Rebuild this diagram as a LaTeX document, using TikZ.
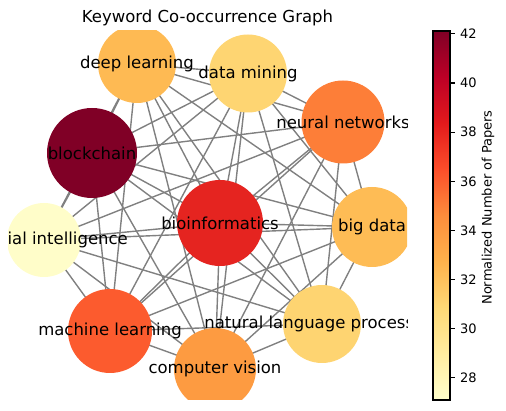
\documentclass[tikz,border=0pt]{standalone}
\usepackage{fontspec}
\setmainfont{DejaVu Sans}
\usepackage{tikz}
\usetikzlibrary{backgrounds}

\definecolor{cyl0}{HTML}{FFFFCC}
\definecolor{cyl1}{HTML}{FFEDA0}
\definecolor{cyl2}{HTML}{FED976}
\definecolor{cyl3}{HTML}{FEB24C}
\definecolor{cyl4}{HTML}{FD8D3C}
\definecolor{cyl5}{HTML}{FC4E2A}
\definecolor{cyl6}{HTML}{E31A1C}
\definecolor{cyl7}{HTML}{BD0026}
\definecolor{cyl8}{HTML}{800026}
\definecolor{kwdl}{HTML}{FEBA53}
\definecolor{kwdm}{HTML}{FED572}
\definecolor{kwnn}{HTML}{FD7E38}
\definecolor{kwbc}{HTML}{800026}
\definecolor{kwbio}{HTML}{E52420}
\definecolor{kwbd}{HTML}{FEBC55}
\definecolor{kwai}{HTML}{FFFDC9}
\definecolor{kwml}{HTML}{FC5B2E}
\definecolor{kwnlp}{HTML}{FED471}
\definecolor{kwcv}{HTML}{FD9B41}

\begin{document}
\begin{tikzpicture}[x=1pt, y=1pt,
    kw/.style={circle, inner sep=0pt},
    lbl/.style={font=\fontsize{16.5}{19.8}\selectfont},
    link/.style={draw=gray, line width=1.4pt},
    tick/.style={font=\fontsize{13}{15.6}\selectfont, anchor=west, inner sep=0pt}]
  \useasboundingbox (0,0) rectangle (506,411);
  \node[lbl] (title) at (207.5,393) {Keyword Co-occurrence Graph};
  \begin{scope}
    \clip (8,11) rectangle (407,380);
    \node[kw, fill=kwdl, minimum size=78] (dl) at (137,347) {};
    \node[kw, fill=kwdm, minimum size=78] (dm) at (248,337.5) {};
    \node[kw, fill=kwnn, minimum size=83] (nn) at (343,289) {};
    \node[kw, fill=kwbc, minimum size=90] (bc) at (92,258) {};
    \node[kw, fill=kwbio, minimum size=86] (bio) at (220,188) {};
    \node[kw, fill=kwbd, minimum size=80] (bd) at (372,184) {};
    \node[kw, fill=kwai, minimum size=74] (ai) at (44,171) {};
    \node[kw, fill=kwml, minimum size=84] (ml) at (110,80) {};
    \node[kw, fill=kwnlp, minimum size=78] (nlp) at (322,87) {};
    \node[kw, fill=kwcv, minimum size=82] (cv) at (215,42) {};
    \begin{pgfonlayer}{background}
      \foreach \a [count=\i] in {dl,dm,nn,bc,bio,bd,ai,ml,nlp,cv}
        \foreach \b [count=\j] in {dl,dm,nn,bc,bio,bd,ai,ml,nlp,cv}
          {\ifnum\j>\i \draw[link] (\a.center) -- (\b.center); \fi}
    \end{pgfonlayer}
    \node[lbl] at (dl) {deep learning};
    \node[lbl] at (dm) {data mining};
    \node[lbl] at (nn) {neural networks};
    \node[lbl] at (bc) {blockchain};
    \node[lbl] at (bio) {bioinformatics};
    \node[lbl] at (bd) {big data};
    \node[lbl] at (ai) {artificial intelligence};
    \node[lbl] at (ml) {machine learning};
    \node[lbl] at (nlp) {natural language processing};
    \node[lbl] at (cv) {computer vision};
  \end{scope}
  \foreach \lo/\hi [count=\k from 0] in {cyl0/cyl1,cyl1/cyl2,cyl2/cyl3,cyl3/cyl4,cyl4/cyl5,cyl5/cyl6,cyl6/cyl7,cyl7/cyl8}
    \shade[bottom color=\lo, top color=\hi] (433,{11+46.125*\k}) rectangle (450,{11+46.125*(\k+1)+0.3});
  \draw[line width=1.1pt] (433,11) rectangle (450,380);
  \foreach \v in {28,30,...,42}
  {
    \draw[line width=1.1pt] (450,{11+(\v-27.1)*24.57}) -- ++(4.9,0);
    \node[tick] at (459.8,{11+(\v-27.1)*24.57}) {\v};
  }
  \node[rotate=90, font=\fontsize{13}{15.6}\selectfont] (cbarlabel) at (488,203.5) {Normalized Number of Papers};
\end{tikzpicture}
\end{document}
